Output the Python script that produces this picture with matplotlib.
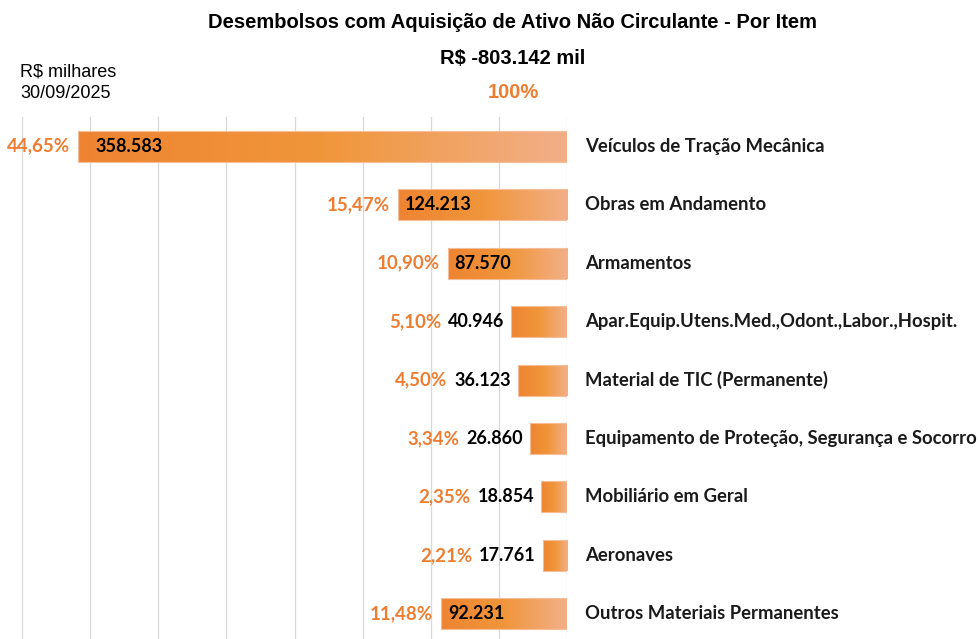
import numpy as np
import matplotlib
matplotlib.use("Agg")
import matplotlib.pyplot as plt
from matplotlib.colors import LinearSegmentedColormap
from matplotlib.patches import Rectangle
from matplotlib import font_manager as fm

# data (R$ milhares, 30/09/2025)
categories = [
    "Veículos de Tração Mecânica",
    "Obras em Andamento",
    "Armamentos",
    "Apar.Equip.Utens.Med.,Odont.,Labor.,Hospit.",
    "Material de TIC (Permanente)",
    "Equipamento de Proteção, Segurança e Socorro",
    "Mobiliário em Geral",
    "Aeronaves",
    "Outros Materiais Permanentes",
]
values = [358583, 124213, 87570, 40946, 36123, 26860, 18854, 17761, 92231]
value_labels = ["358.583", "124.213", "87.570", "40.946", "36.123",
                "26.860", "18.854", "17.761", "92.231"]
pct_labels = ["44,65%", "15,47%", "10,90%", "5,10%", "4,50%",
              "3,34%", "2,35%", "2,21%", "11,48%"]

ORANGE = "#ED7D31"

# pick one bold Lato file explicitly so the result does not depend on cache order
bold_files = sorted(f.fname for f in fm.fontManager.ttflist
                    if f.name == "Lato" and f.weight in (700, "bold")
                    and f.style == "normal")
if bold_files:
    def lab(size):
        return fm.FontProperties(fname=bold_files[0], size=size)
else:
    def lab(size):
        return fm.FontProperties(family="DejaVu Sans", weight="bold", size=size)

cmap = LinearSegmentedColormap.from_list(
    "bar", ["#EE8432", "#F0963A", "#F2AF88"])

fig = plt.figure(figsize=(9.8, 6.39), dpi=100)
ax = fig.add_axes([22 / 980, 0, (567 - 22) / 980, 1 - 117 / 639])

h = 0.53
grad = np.linspace(0, 1, 256).reshape(1, -1)
for i, v in enumerate(values):
    left = -v
    # gradient fill per bar + light outline
    ax.imshow(grad, cmap=cmap, extent=(left, 0, i + h / 2, i - h / 2),
              aspect="auto", zorder=2, interpolation="bilinear")
    ax.add_patch(Rectangle((left, i - h / 2), v, h, fill=False,
                           edgecolor="#F6BE98", lw=0.8, zorder=3))

    if v > 50000:
        ax.annotate(value_labels[i], xy=(left, i), xytext=(12 if i == 0 else 5, 0),
                    textcoords="offset points", ha="left", va="center",
                    fontproperties=lab(13), color="black", zorder=4)
        ax.annotate(pct_labels[i], xy=(left, i), xytext=(-6, 0),
                    textcoords="offset points", ha="right", va="center",
                    fontproperties=lab(13.5), color=ORANGE, zorder=4)
    else:
        t = ax.annotate(value_labels[i], xy=(left, i), xytext=(-5, 0),
                        textcoords="offset points", ha="right", va="center",
                        fontproperties=lab(13), color="black", zorder=4)
        ax.annotate(pct_labels[i], xy=(0, 0.5), xycoords=t, xytext=(-5, 0),
                    textcoords="offset points", ha="right", va="center",
                    fontproperties=lab(13.5), color=ORANGE, zorder=4)

    ax.annotate(categories[i], xy=(0, i), xytext=(13, 0),
                textcoords="offset points", ha="left", va="center",
                fontproperties=lab(13.3), color="#1a1a1a",
                annotation_clip=False)

ax.set_xlim(-400000, 0)
ax.set_ylim(8.43, -0.5)
ax.set_xticks(np.arange(-400000, 1, 50000))
ax.grid(axis="x", color="#D9D9D9", lw=0.9, zorder=0)
ax.set_axisbelow(True)
ax.tick_params(left=False, bottom=False, labelleft=False, labelbottom=False)
for s in ax.spines.values():
    s.set_visible(False)

fig.text(513 / 980, 1 - 22 / 639, "Desembolsos com Aquisição de Ativo Não Circulante - Por Item",
         ha="center", va="center", fontsize=14.5, fontweight="bold",
         family="Liberation Sans")
fig.text(513 / 980, 1 - 58 / 639, "R$ -803.142 mil", ha="center", va="center",
         fontsize=14.5, fontweight="bold", family="Liberation Sans")
fig.text(513 / 980, 1 - 93 / 639, "100%", ha="center", va="center",
         fontsize=14.5, fontweight="bold", family="Liberation Sans", color=ORANGE)
fig.text(20 / 980, 1 - 72 / 639, "R$ milhares", ha="left", va="center",
         fontsize=13, family="Liberation Sans")
fig.text(20 / 980, 1 - 93 / 639, "30/09/2025", ha="left", va="center",
         fontsize=13, family="Liberation Sans")

fig.savefig("out.png", dpi=100)
